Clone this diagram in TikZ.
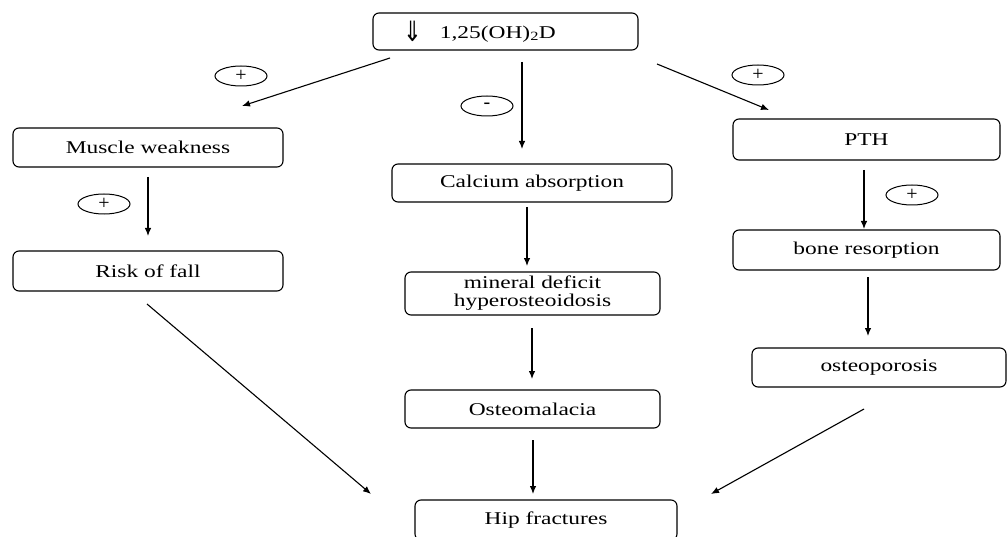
\documentclass[tikz,border=0pt]{standalone}
\usepackage{fontspec}
\setmainfont{Liberation Serif}[FakeStretch=1.3]
\newfontfamily\symfont{DejaVu Sans}[FakeStretch=0.8]
\newfontfamily\signfont{Liberation Serif}
\usetikzlibrary{arrows.meta,shapes.geometric}
\begin{document}
\begin{tikzpicture}[x=1pt,y=-1pt,
  box/.style={draw, rounded corners=6pt, line width=1.1pt, inner sep=0pt, align=center,
    font=\fontsize{18}{21}\selectfont},
  sign/.style={draw, ellipse, line width=1pt, minimum width=52pt, minimum height=20pt,
    inner sep=0pt, font=\signfont\fontsize{20}{20}\selectfont},
  arr/.style={line width=1.1pt, -{Latex[length=8pt,width=6.5pt]}}
]
\useasboundingbox (0,0) rectangle (1008,537);
% boxes
\node[box, minimum width=265pt, minimum height=37pt] (top) at (505.5,31.5)
  {\raisebox{-3pt}{\symfont\fontsize{28}{28}\selectfont\char"21D3}\hspace{18pt}1,25(OH)\textsubscript{2}D\hspace{52pt}};
\node[box, minimum width=270pt, minimum height=39pt] (mw) at (148,147.5) {Muscle weakness};
\node[box, minimum width=270pt, minimum height=40pt] (rf) at (148,271) {Risk of fall};
\node[box, minimum width=280pt, minimum height=38pt] (ca) at (532,183) {Calcium absorption};
\node[box, minimum width=255pt, minimum height=43pt] (md) at (532.5,293.5) {mineral deficit\\[-3pt]hyperosteoidosis};
\node[box, minimum width=255pt, minimum height=38pt] (om) at (532.5,409) {Osteomalacia};
\node[box, minimum width=262pt, minimum height=40pt] (hf) at (546,520) {Hip fractures};
\node[box, minimum width=267pt, minimum height=41pt] (pth) at (866.5,139.5) {PTH};
\node[box, minimum width=267pt, minimum height=40pt] (br) at (866.5,250) {bone resorption};
\node[box, minimum width=254pt, minimum height=39pt] (op) at (879,367.5) {osteoporosis};
% signs
\node[sign] (s1) at (241,76) {+};
\node[sign] (s2) at (487,106) {\raisebox{1pt}{-}};
\node[sign] (s3) at (758,75) {+};
\node[sign] (s4) at (104,204) {+};
\node[sign] (s5) at (912,195) {+};
% arrow end points
\coordinate (a1s) at (390,58);  \coordinate (a1e) at (242,106);
\coordinate (a2s) at (522,62);  \coordinate (a2e) at (522,149);
\coordinate (a3s) at (657,64);  \coordinate (a3e) at (769,110);
\coordinate (a4s) at (148,177); \coordinate (a4e) at (148,236);
\coordinate (a5s) at (527,207); \coordinate (a5e) at (527,266);
\coordinate (a6s) at (532,328); \coordinate (a6e) at (532,379);
\coordinate (a7s) at (533,440); \coordinate (a7e) at (533,494);
\coordinate (a8s) at (864,170); \coordinate (a8e) at (864,229);
\coordinate (a9s) at (868,277); \coordinate (a9e) at (868,336);
\coordinate (a10s) at (147,304); \coordinate (a10e) at (371,494);
\coordinate (a11s) at (864,409); \coordinate (a11e) at (711,494);
\foreach \i in {1,...,11} { \draw[arr] (a\i s) -- (a\i e); }
\end{tikzpicture}
\end{document}
